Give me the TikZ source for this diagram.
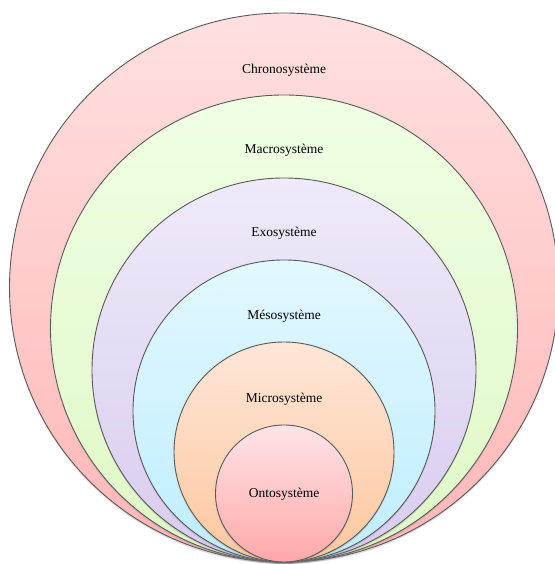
\documentclass[tikz,border=0pt]{standalone}
\usepackage{fontspec}
\setmainfont{Liberation Serif}
\usepackage{tikz}
\usetikzlibrary{positioning, shadows}

\definecolor{chronotop}{HTML}{FFE0E0}
\definecolor{chronobot}{HTML}{FFB6B6}
\definecolor{macrotop}{HTML}{F0FFE4}
\definecolor{macrobot}{HTML}{DFF8C6}
\definecolor{exotop}{HTML}{EFEAFA}
\definecolor{exobot}{HTML}{D8CCEE}
\definecolor{mesotop}{HTML}{E2F8FF}
\definecolor{mesobot}{HTML}{BFEDFF}
\definecolor{microtop}{HTML}{FFE6D8}
\definecolor{microbot}{HTML}{FCC79E}
\definecolor{ontotop}{HTML}{FFE4E8}
\definecolor{ontobot}{HTML}{FFA8A8}

\begin{document}
\begin{tikzpicture}[
  x=1pt, y=1pt,
  ring/.style={circle, draw=black!65, line width=0.9pt, inner sep=0pt,
    drop shadow={shadow xshift=0pt, shadow yshift=-2pt, opacity=0.25}},
  lbl/.style={font=\fontsize{13.5}{15}\selectfont, text=black, inner sep=1pt}
]
  \useasboundingbox (0,0) rectangle (554,564);

  \node[ring, top color=chronotop, bottom color=chronobot, minimum size=549] (chrono) at (284,276.5) {};
  \node[ring, top color=macrotop, bottom color=macrobot, minimum size=467] (macro) at (284,235.5) {};
  \node[ring, top color=exotop, bottom color=exobot, minimum size=384] (exo) at (284,194) {};
  \node[ring, top color=mesotop, bottom color=mesobot, minimum size=302] (meso) at (284,153) {};
  \node[ring, top color=microtop, bottom color=microbot, minimum size=220] (micro) at (284,112) {};
  \node[ring, top color=ontotop, bottom color=ontobot, minimum size=137] (onto) at (284,70.5) {};

  \node[lbl] (chronotxt) at ([yshift=-58]chrono.north) {Chronosystème};
  \node[lbl] (macrotxt) at ([yshift=-56]macro.north) {Macrosystème};
  \node[lbl] (exotxt) at ([yshift=-56]exo.north) {Exosystème};
  \node[lbl] (mesotxt) at ([yshift=-57]meso.north) {Mésosystème};
  \node[lbl] (microtxt) at ([yshift=-58]micro.north) {Microsystème};
  \node[lbl] (ontotxt) at ([yshift=-1]onto) {Ontosystème};
\end{tikzpicture}
\end{document}
